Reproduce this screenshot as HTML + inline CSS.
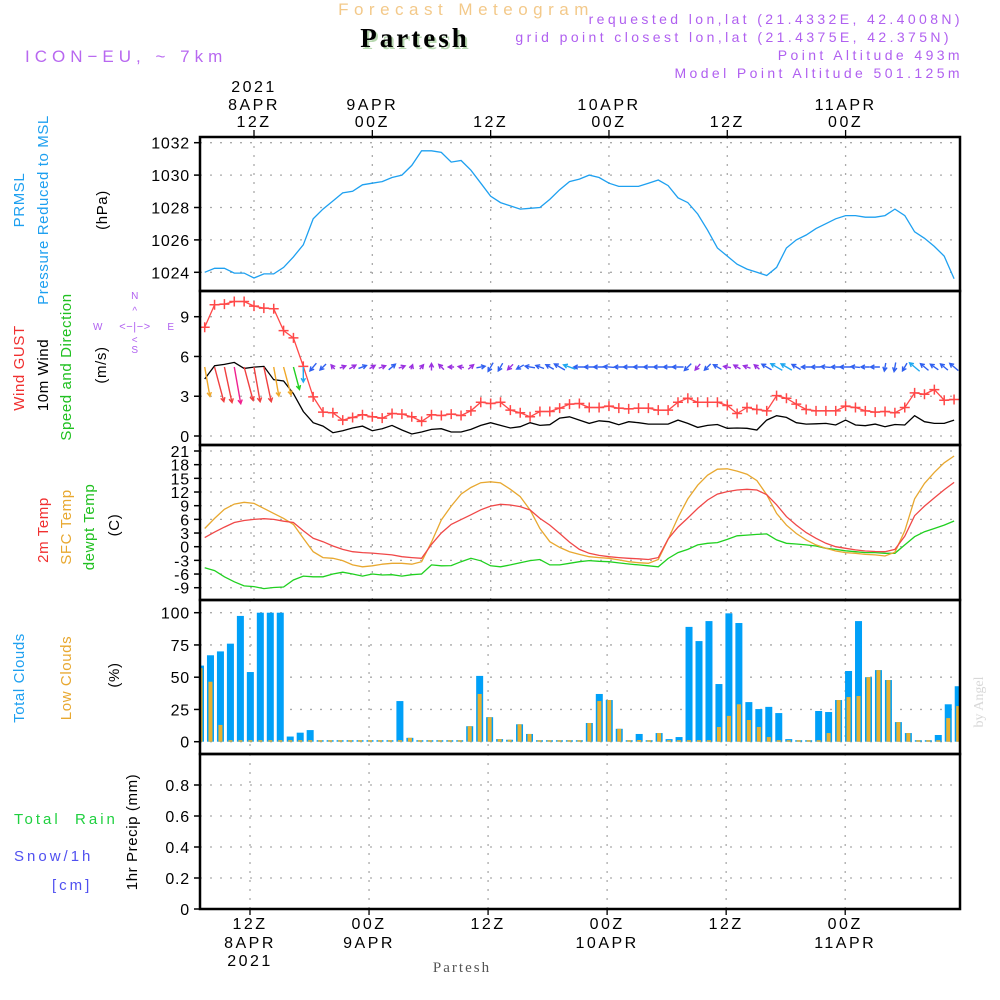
<!DOCTYPE html>
<html><head><meta charset="utf-8"><style>
html,body{margin:0;padding:0;background:#fff;width:1000px;height:1000px;overflow:hidden}
svg{display:block}
text{font-family:"Liberation Sans",sans-serif}
</style></head><body>
<svg id="chart" width="1000" height="1000" viewBox="0 0 1000 1000" xmlns="http://www.w3.org/2000/svg">
<g>
<text x="466" y="15" text-anchor="middle" font-size="17" letter-spacing="5.5" fill="#f3c98a">Forecast Meteogram</text>
<text x="417" y="49" text-anchor="middle" font-size="27" font-weight="bold" letter-spacing="3" fill="#b8d8b0" style="font-family:'Liberation Serif',serif">Partesh</text>
<text x="415" y="47" text-anchor="middle" font-size="27" font-weight="bold" letter-spacing="3" fill="#000" style="font-family:'Liberation Serif',serif">Partesh</text>
<text x="25" y="62" font-size="17" letter-spacing="5" fill="#b868f0">ICON−EU, ~ 7km</text>
<text x="963" y="24" text-anchor="end" font-size="14" letter-spacing="3.4" fill="#b060f0">requested lon,lat (21.4332E, 42.4008N)</text>
<text x="952" y="42" text-anchor="end" font-size="14" letter-spacing="3.4" fill="#b060f0">grid point closest lon,lat (21.4375E, 42.375N)</text>
<text x="963" y="60" text-anchor="end" font-size="14" letter-spacing="3.4" fill="#b060f0">Point Altitude 493m</text>
<text x="963" y="78" text-anchor="end" font-size="14" letter-spacing="3.4" fill="#b060f0">Model Point Altitude 501.125m</text>
</g>
<g font-size="15" letter-spacing="0.6">
<text transform="translate(24,200) rotate(-90)" text-anchor="middle" fill="#1ea0f0">PRMSL</text>
<text transform="translate(48,210) rotate(-90)" text-anchor="middle" fill="#1ea0f0">Pressure Reduced to MSL</text>
<text transform="translate(107,210) rotate(-90)" text-anchor="middle" fill="#000">(hPa)</text>
<text transform="translate(24,368) rotate(-90)" text-anchor="middle" fill="#f03030">Wind GUST</text>
<text transform="translate(48,375) rotate(-90)" text-anchor="middle" fill="#000">10m Wind</text>
<text transform="translate(71,367) rotate(-90)" text-anchor="middle" fill="#20c020">Speed and Direction</text>
<text transform="translate(106,365) rotate(-90)" text-anchor="middle" fill="#000">(m/s)</text>
<g fill="#b060f0" font-size="10" text-anchor="middle">
<text x="135" y="299">N</text><text x="135" y="353">S</text><text x="98" y="330">W</text><text x="171" y="330">E</text>
<text x="135" y="330" font-size="11">&lt;−|−&gt;</text><text x="135" y="314" font-size="10">^</text><text x="135" y="343" font-size="10">&lt;</text>
</g>
<text transform="translate(48,530) rotate(-90)" text-anchor="middle" fill="#f03030">2m Temp</text>
<text transform="translate(71,527) rotate(-90)" text-anchor="middle" fill="#e8a830">SFC Temp</text>
<text transform="translate(94,527) rotate(-90)" text-anchor="middle" fill="#20c020">dewpt Temp</text>
<text transform="translate(119,525) rotate(-90)" text-anchor="middle" fill="#000">(C)</text>
<text transform="translate(24,678) rotate(-90)" text-anchor="middle" fill="#1ea0f0">Total Clouds</text>
<text transform="translate(71,678) rotate(-90)" text-anchor="middle" fill="#e8a830">Low Clouds</text>
<text transform="translate(119,675) rotate(-90)" text-anchor="middle" fill="#000">(%)</text>
<text x="14" y="824" fill="#20d040" letter-spacing="3" xml:space="preserve">Total  Rain</text>
<text x="14" y="861" fill="#5050f0" letter-spacing="3">Snow/1h</text>
<text x="52" y="890" fill="#5050f0" letter-spacing="3">[cm]</text>
<text transform="translate(137,832) rotate(-90)" text-anchor="middle" fill="#000">1hr Precip (mm)</text>
</g>
<text transform="translate(983,702) rotate(-90)" text-anchor="middle" font-size="14" fill="#d8d8d8" style="font-family:'Liberation Serif',serif">by Angel</text>
<text x="462" y="972" text-anchor="middle" font-size="15" letter-spacing="2" fill="#555" style="font-family:'Liberation Serif',serif">Partesh</text>
<g id="plots"></g>
</svg>
<script>
// hours since 2021-04-08 00Z for each sample (h = 7 .. 83)
const hours = [];
for (let h = 7; h <= 83; h++) hours.push(h);
const pressure = [1024.0,1024.25,1024.25,1023.95,1023.95,1023.65,1023.9,1023.9,1024.3,1024.95,1025.7,1027.3,1027.9,1028.4,1028.9,1029.0,1029.4,1029.5,1029.6,1029.85,1030.0,1030.6,1031.5,1031.5,1031.4,1030.8,1030.9,1030.3,1029.5,1028.7,1028.3,1028.1,1027.9,1027.95,1028.0,1028.5,1029.1,1029.6,1029.75,1030.0,1029.85,1029.5,1029.3,1029.3,1029.3,1029.5,1029.7,1029.35,1028.6,1028.3,1027.6,1026.6,1025.5,1025.0,1024.5,1024.2,1024.0,1023.8,1024.3,1025.5,1026.0,1026.3,1026.7,1027.0,1027.3,1027.5,1027.5,1027.4,1027.4,1027.5,1027.9,1027.5,1026.5,1026.1,1025.6,1025.0,1023.6];
const gust = [8.2,9.9,9.95,10.15,10.15,9.8,9.65,9.6,7.95,7.4,5.25,2.95,1.8,1.75,1.2,1.4,1.6,1.45,1.35,1.7,1.65,1.45,1.1,1.6,1.55,1.65,1.55,1.9,2.55,2.45,2.55,1.95,1.75,1.45,1.85,1.85,2.1,2.4,2.45,2.15,2.15,2.25,2.1,2.05,2.1,2.1,1.95,1.95,2.55,2.85,2.55,2.55,2.55,2.3,1.7,2.15,2.0,1.9,3.05,2.85,2.4,2.0,1.9,1.9,1.9,2.25,2.15,1.9,1.8,1.85,1.75,2.15,3.25,3.15,3.5,2.7,2.75];
const wind = [4.3,5.3,5.4,5.55,5.1,5.2,5.25,4.25,4.15,3.2,1.85,1.0,0.75,0.25,0.4,0.6,0.75,0.4,0.55,0.8,0.45,0.15,0.3,0.5,0.55,0.3,0.3,0.5,0.8,1.0,0.8,0.6,0.7,1.0,0.8,0.85,1.35,1.45,1.2,0.95,1.15,1.08,0.85,1.08,1.0,0.9,0.9,0.9,1.2,0.95,0.65,0.8,0.87,0.58,0.6,0.58,0.45,1.2,1.53,1.4,1.0,0.9,0.92,0.95,0.83,1.2,0.83,0.78,0.9,0.7,0.87,0.83,1.53,1.08,0.95,0.95,1.2];
const windDir = [350,345,348,350,345,350,348,350,345,345,0,40,45,140,250,240,250,240,250,230,250,200,220,180,135,90,100,230,260,30,30,45,60,100,110,120,120,110,90,90,90,95,90,90,90,90,90,90,90,45,40,45,120,100,120,110,130,120,120,120,120,90,90,95,90,90,95,90,90,10,10,30,130,130,125,130,130];
const t2m = [2.0,3.2,4.3,5.3,5.75,6.0,6.15,6.0,5.6,5.3,3.5,1.85,1.1,0.15,-0.6,-1.1,-1.3,-1.4,-1.6,-1.8,-2.2,-2.4,-2.55,0.5,3.0,4.9,5.95,7.0,8.1,8.9,9.3,9.15,8.8,8.05,6.2,4.75,2.9,1.0,-0.6,-1.45,-1.9,-2.2,-2.4,-2.55,-2.65,-2.8,-2.4,1.7,4.3,6.3,8.4,10.25,11.55,12.1,12.45,12.6,12.45,11.4,9.2,6.6,4.75,3.1,1.85,0.75,0.0,-0.35,-0.7,-0.95,-1.05,-1.1,-0.6,2.3,6.8,8.9,10.7,12.5,14.1];
const sfcTemp = [4.0,6.2,8.2,9.35,9.75,9.5,8.4,7.3,6.2,4.9,1.85,-1.1,-2.4,-2.55,-3.05,-4.0,-4.4,-4.2,-3.85,-3.65,-3.65,-3.85,-3.3,1.0,5.85,8.9,11.55,13.0,14.05,14.25,14.0,12.6,11.0,8.05,4.0,1.1,-0.15,-1.1,-1.7,-2.2,-2.4,-2.55,-2.9,-3.3,-3.5,-3.65,-2.8,1.6,6.4,10.5,13.5,15.7,17.0,17.1,16.6,15.9,14.5,11.4,7.3,4.75,2.9,1.5,0.4,-0.35,-0.95,-1.3,-1.45,-1.7,-1.8,-2.05,-1.2,3.5,10.5,13.9,16.3,18.4,19.9];
const dewpt = [-4.6,-5.25,-6.6,-7.7,-8.6,-8.75,-9.2,-8.95,-8.85,-7.3,-6.45,-6.6,-6.6,-6.0,-5.6,-6.0,-6.45,-6.0,-6.2,-6.15,-6.45,-6.15,-6.0,-4.0,-4.2,-4.15,-3.3,-2.55,-3.1,-4.2,-4.4,-4.0,-3.5,-3.05,-2.8,-4.0,-4.0,-3.65,-3.3,-3.05,-3.2,-3.3,-3.55,-3.8,-4.0,-4.2,-4.4,-2.6,-1.3,-0.6,0.4,0.75,0.9,1.6,2.4,2.55,2.7,2.8,1.5,0.75,0.6,0.4,0.15,-0.35,-0.6,-0.9,-1.1,-1.3,-1.3,-1.45,-1.45,0.4,2.2,3.3,4.0,4.75,5.65];
const totalClouds = [59,67,70,76,97.5,54,100,100,100,4,7,9,0,0,0,0,0,0,0,0,31.5,3,0,0,0,0,0,12,51,19,2,1.5,13.5,6,0,0,0,0,0,14.5,37,32.3,10,0,6,0,6.7,2,3.6,89,78,93.5,44.7,99.5,92,30.7,25.3,27,22.2,2,0,0,23.8,23,32.3,54.8,93.5,50,55.5,47.8,15.2,6.7,0,0,5.2,29,43];
const lowClouds = [57,46.5,13,0,0,0,0,0,0,0,0,0,0,0,0,0,0,0,0,0,0,3,0,0,0,0,0,12,37,19,2,1.5,13.5,6,0,0,0,0,0,14.5,31.5,32.3,10,0,1.3,0,6.7,0,0,0,0,0,11.4,20,29,16.8,11.4,3.6,0,0,0,0,0,6.7,32.3,34.6,35.4,50,55.5,47.8,15.2,6.7,0,0,0,18.3,27.6];
const precip = hours.map(() => 0);
const pressTicks = [1024,1026,1028,1030,1032];
const windTicks = [0,3,6,9];
const tempTicks = [-9,-6,-3,0,3,6,9,12,15,18,21];
const cloudTicks = [0,25,50,75,100];
const precipTicks = [0,0.2,0.4,0.6,0.8];
const timeTicks = [12,24,36,48,60,72]; // hours since 8APR 00Z
const topLabels = [["2021","8APR","12Z"],["","9APR","00Z"],["","","12Z"],["","10APR","00Z"],["","","12Z"],["","11APR","00Z"]];
const botLabels = [["12Z","8APR","2021"],["00Z","9APR",""],["12Z","",""],["00Z","10APR",""],["12Z","",""],["00Z","11APR",""]];

const NS = "http://www.w3.org/2000/svg";
const root = document.getElementById('plots');
const L = 200, R = 960;
function el(tag, attrs, parent) {
  const e = document.createElementNS(NS, tag);
  for (const k in attrs) e.setAttribute(k, attrs[k]);
  (parent || root).appendChild(e);
  return e;
}
const xTop = h => 254 + (h - 12) * 9.86;
const xBot = h => 250 + (h - 12) * 9.92;
const xBar = h => 200.5 + (h - 7) * 9.97;
function lin(v0, v1, p0, p1) { return v => p0 + (v - v0) * (p1 - p0) / (v1 - v0); }
const yP = lin(1024, 1032, 272.3, 142.7);
const yW = lin(0, 9, 436, 316.7);
const yT = lin(0, 21, 546.7, 451);
const yC = lin(0, 100, 741.7, 612.7);
const yR = lin(0, 0.8, 909, 785);

const panels = [
  {name:'pressure', top:137, bot:291, y:yP, ticks:pressTicks, fmt:v=>v, xf:xTop},
  {name:'wind', top:291, bot:445, y:yW, ticks:windTicks, fmt:v=>v, xf:xTop},
  {name:'temperature', top:445, bot:600, y:yT, ticks:tempTicks, fmt:v=>v, xf:xTop},
  {name:'clouds', top:600, bot:754, y:yC, ticks:cloudTicks, fmt:v=>v, xf:xBot},
  {name:'precip', top:754, bot:909, y:yR, ticks:precipTicks, fmt:v=>v===0?'0':v.toFixed(1), xf:xBot}
];
const clipDefs = el('defs', {});
panels.forEach(p => {
  const g = el('g', {});
  
  
  p.g = g;
  const cp = el('clipPath', {id:'clip-' + p.name}, clipDefs);
  el('rect', {x:L, y:p.top, width:R-L, height:p.bot-p.top}, cp);
  p.ticks.forEach(v => {
    const y = p.y(v);
    const gl = el('line', {x1:L, x2:R, y1:y, y2:y, stroke:'#aaa', 'stroke-width':1.3, 'stroke-dasharray':'2 8'}, g);
    
    
    el('line', {x1:L-6, x2:L, y1:y, y2:y, stroke:'#000', 'stroke-width':1.5}, g);
    const t = el('text', {x:L-10, y:y+6, 'text-anchor':'end', 'font-size':16, 'letter-spacing':0.8, fill:'#000'}, g);
    t.textContent = p.fmt(v);
    
    
  });
  timeTicks.forEach(h => {
    const x = p.xf(h);
    const vl = el('line', {x1:x, x2:x, y1:p.top, y2:p.bot, stroke:'#aaa', 'stroke-width':1.3, 'stroke-dasharray':'2 7'}, g);
    
    
  });
});
function series(p, name) {
  const g = el('g', {'clip-path':'url(#clip-' + p.name + ')'}, p.g);
  
  
  return g;
}
function line(p, name, vals, color, w) {
  const g = series(p, name);
  const pts = vals.map((v, i) => p.xf(hours[i]).toFixed(1) + ',' + p.y(v).toFixed(1)).join(' ');
  const pl = el('polyline', {points:pts, fill:'none', stroke:color, 'stroke-width':w || 1.3}, g);
  
  
  return g;
}
line(panels[0], 'pressure-series', pressure, '#1ea0f0');
line(panels[1], 'wind-speed-series', wind, '#000');
const gg = line(panels[1], 'wind-gust-series', gust, '#ff4848');
gust.forEach((v, i) => {
  const x = xTop(hours[i]), y = yW(v);
  const m = el('path', {d:`M${x-5},${y}H${x+5}M${x},${y-5}V${y+5}`, stroke:'#ff4848', 'stroke-width':1.5}, gg);
  
  
});
const ag = series(panels[1], 'wind-arrows');
function arrowColor(s) {
  if (s < 0.7) return '#9a30e0';
  if (s < 1.4) return '#3060f0';
  if (s < 2.5) return '#20a8f0';
  if (s < 3.6) return '#20d020';
  if (s < 4.5) return '#f0a828';
  if (s < 5.5) return '#f04040';
  return '#f02090';
}
wind.forEach((s, i) => {
  const len = 4 + 6 * s;
  const to = (windDir[i] + 180) * Math.PI / 180;
  const dx = Math.sin(to) * len, dy = -Math.cos(to) * len;
  let x0 = xTop(hours[i]), y0 = 367;
  if (len < 15) { x0 -= dx / 2; y0 -= dy / 2; }
  const x1 = x0 + dx, y1 = y0 + dy;
  const a = Math.atan2(dy, dx), hl = 4.5;
  const d = `M${x0},${y0}L${x1},${y1}M${x1 - hl*Math.cos(a-0.5)},${y1 - hl*Math.sin(a-0.5)}L${x1},${y1}L${x1 - hl*Math.cos(a+0.5)},${y1 - hl*Math.sin(a+0.5)}`;
  const p = el('path', {d:d, fill:'none', stroke:arrowColor(s), 'stroke-width':1.4}, ag);
  
  
});
line(panels[2], 'dewpoint-series', dewpt, '#20d020');
line(panels[2], 'sfc-temp-series', sfcTemp, '#e8a830');
line(panels[2], 't2m-series', t2m, '#f04848');
const cg = series(panels[3], 'cloud-bars');
totalClouds.forEach((v, i) => {
  const x = xBar(hours[i]);
  const yb = yC(0), yt = Math.min(yC(v), yb - 1.5);
  const b = el('rect', {x:x-3.5, y:yt, width:7, height:yb-yt, fill:'#00a0f8'}, cg);
  
  
  const lt = Math.min(yC(lowClouds[i]), yb - 1.5);
  const o = el('rect', {x:x-2, y:lt, width:4, height:yb-lt, fill:'#e8b030'}, cg);
  
  
});
line(panels[4], 'precip-series', precip, '#1a6a1a', 1.5);
panels.forEach(p => {
  const f = el('rect', {x:L, y:p.top, width:R-L, height:p.bot-p.top, fill:'none', stroke:'#000', 'stroke-width':2.5}, p.g);
  
  
});
const tg = el('g', {});


timeTicks.forEach((h, k) => {
  const xt = xTop(h), xb = xBot(h);
  el('line', {x1:xt, x2:xt, y1:130, y2:137, stroke:'#000', 'stroke-width':1.3}, tg);
  el('line', {x1:xb, x2:xb, y1:909, y2:915, stroke:'#000', 'stroke-width':1.3}, tg);
  [92, 110, 127].forEach((y, r) => {
    if (!topLabels[k][r]) return;
    const t = el('text', {x:xt, y:y, 'text-anchor':'middle', 'font-size':16, 'letter-spacing':2.5, fill:'#000'}, tg);
    t.textContent = topLabels[k][r];
    
    
  });
  [929, 948, 966].forEach((y, r) => {
    if (!botLabels[k][r]) return;
    const t = el('text', {x:xb, y:y, 'text-anchor':'middle', 'font-size':16, 'letter-spacing':2.5, fill:'#000'}, tg);
    t.textContent = botLabels[k][r];
    
    
  });
});
</script>
</body></html>
